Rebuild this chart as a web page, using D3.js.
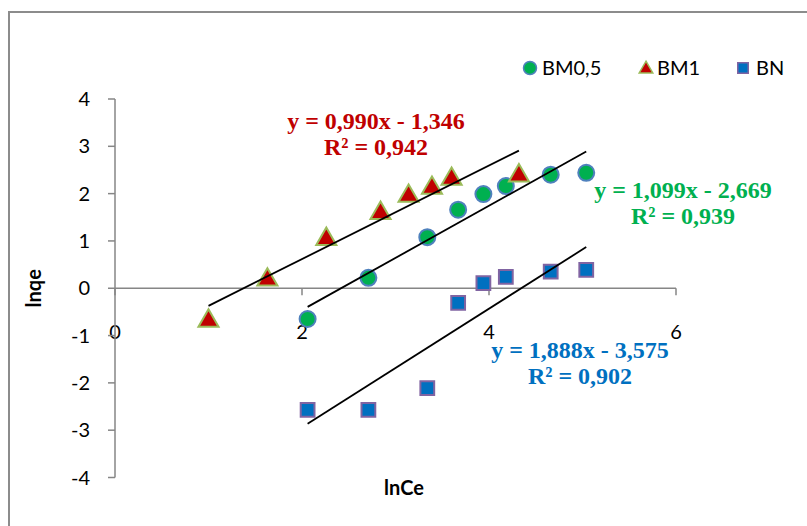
<!DOCTYPE html>
<html>
<head>
<meta charset="utf-8">
<script src="https://cdn.jsdelivr.net/npm/d3@7"></script>
<style>
  body { margin: 0; background: #fff; }
  svg { display: block; }
</style>
</head>
<body>
<svg width="807" height="526"></svg>
<script>
// lnCe / lnqe values
var bm05X = [2.06, 2.71, 3.34, 3.67, 3.94, 4.18, 4.66, 5.04];
var bm05Y = [-0.65, 0.22, 1.08, 1.66, 1.99, 2.16, 2.40, 2.44];
var bm1X = [1.00, 1.63, 2.26, 2.84, 3.14, 3.39, 3.60, 4.32];
var bm1Y = [-0.67, 0.20, 1.06, 1.61, 1.97, 2.14, 2.33, 2.40];
var bnX = [2.06, 2.71, 3.34, 3.67, 3.94, 4.18, 4.66, 5.04];
var bnY = [-2.57, -2.57, -2.11, -0.31, 0.11, 0.24, 0.35, 0.39];

var xTicks = [0, 2, 4, 6];
var yTicks = [-4, -3, -2, -1, 0, 1, 2, 3, 4];

var eqBm1 = ["y = 0,990x - 1,346", "R² = 0,942"];
var eqBm05 = ["y = 1,099x - 2,669", "R² = 0,939"];
var eqBn = ["y = 1,888x - 3,575", "R² = 0,902"];

var sans = 'Lato, Open Sans, sans-serif';
var svg = d3.select('svg');

// outer chart border (only top/left visible)
svg.append('rect')
    .attr('x', 9).attr('y', 12)
    .attr('width', 820).attr('height', 540)
    .attr('fill', 'none')
    .attr('stroke', '#8c8c8c')
    .attr('stroke-width', 2);

var x = d3.scaleLinear().domain([0, 6]).range([115, 676]);
var y = d3.scaleLinear().domain([-4, 4]).range([477.5, 99]);

var axisColor = '#868686';

// x axis at y = 0
svg.append('line')
    .attr('x1', x(0)).attr('x2', x(6))
    .attr('y1', y(0)).attr('y2', y(0))
    .attr('stroke', axisColor).attr('stroke-width', 1.5);
svg.selectAll('.xtick').data(xTicks).enter().append('line')
    .attr('x1', function(d) { return x(d); })
    .attr('x2', function(d) { return x(d); })
    .attr('y1', y(0)).attr('y2', y(0) + 7)
    .attr('stroke', axisColor).attr('stroke-width', 1.5);
svg.selectAll('.xlab').data(xTicks).enter().append('text')
    .attr('x', function(d) { return x(d); })
    .attr('y', y(0) + 51)
    .attr('text-anchor', 'middle')
    .attr('font-family', sans)
    .attr('font-size', 20)
    .text(function(d) { return d; });

// y axis
svg.append('line')
    .attr('x1', x(0)).attr('x2', x(0))
    .attr('y1', y(-4)).attr('y2', y(4))
    .attr('stroke', axisColor).attr('stroke-width', 1.5);
svg.selectAll('.ytick').data(yTicks).enter().append('line')
    .attr('x1', x(0) - 7).attr('x2', x(0))
    .attr('y1', function(d) { return y(d); })
    .attr('y2', function(d) { return y(d); })
    .attr('stroke', axisColor).attr('stroke-width', 1.5);
svg.selectAll('.ylab').data(yTicks).enter().append('text')
    .attr('x', 90)
    .attr('y', function(d) { return y(d) + 7; })
    .attr('text-anchor', 'end')
    .attr('font-family', sans)
    .attr('font-size', 20)
    .text(function(d) { return d; });

// axis titles
svg.append('text')
    .attr('transform', 'translate(41,' + y(0) + ') rotate(-90)')
    .attr('text-anchor', 'middle')
    .attr('font-family', sans)
    .attr('font-weight', 'bold')
    .attr('font-size', 20)
    .text('lnqe');
svg.append('text')
    .attr('x', 404).attr('y', 495)
    .attr('text-anchor', 'middle')
    .attr('font-family', sans)
    .attr('font-weight', 'bold')
    .attr('font-size', 20)
    .text('lnCe');

// least squares trend line from min x to max x
function trend(xs, ys) {
    var mx = d3.mean(xs), my = d3.mean(ys);
    var sxy = d3.sum(xs, function(v, i) { return (v - mx) * (ys[i] - my); });
    var sxx = d3.sum(xs, function(v) { return (v - mx) * (v - mx); });
    var b = sxy / sxx, a = my - b * mx;
    var x0 = d3.min(xs), x1 = d3.max(xs);
    svg.append('line')
        .attr('x1', x(x0)).attr('y1', y(a + b * x0))
        .attr('x2', x(x1)).attr('y2', y(a + b * x1))
        .attr('stroke', '#000').attr('stroke-width', 1.8);
}

function pairs(xs, ys) {
    return xs.map(function(v, i) { return { x: v, y: ys[i] }; });
}

var triSym = d3.symbol().type(d3.symbolTriangle).size(175);
var sqSym = d3.symbol().type(d3.symbolSquare).size(190);

// BN squares
svg.selectAll('.bn').data(pairs(bnX, bnY)).enter().append('path')
    .attr('d', sqSym)
    .attr('transform', function(d) { return 'translate(' + x(d.x) + ',' + y(d.y) + ')'; })
    .attr('fill', '#0070c0').attr('stroke', '#8064a2').attr('stroke-width', 2);

// BM0,5 circles
svg.selectAll('.bm05').data(pairs(bm05X, bm05Y)).enter().append('circle')
    .attr('cx', function(d) { return x(d.x); })
    .attr('cy', function(d) { return y(d.y); })
    .attr('r', 8)
    .attr('fill', '#00b050').attr('stroke', '#4f81bd').attr('stroke-width', 2);

// BM1 triangles
svg.selectAll('.bm1').data(pairs(bm1X, bm1Y)).enter().append('path')
    .attr('d', triSym)
    .attr('transform', function(d) { return 'translate(' + x(d.x) + ',' + (y(d.y) + 1) + ')'; })
    .attr('fill', '#c00000').attr('stroke', '#9bbb59').attr('stroke-width', 2);

trend(bm1X, bm1Y);
trend(bm05X, bm05Y);
trend(bnX, bnY);

// equation labels
function eq(lines, cx, y0, color) {
    svg.selectAll(null).data(lines).enter().append('text')
        .attr('x', cx)
        .attr('y', function(d, i) { return y0 + i * 26; })
        .attr('text-anchor', 'middle')
        .attr('font-family', 'Liberation Serif, Times New Roman, serif')
        .attr('font-weight', 'bold')
        .attr('font-size', 24)
        .attr('fill', color)
        .text(function(d) { return d; });
}
eq(eqBm1, 376, 129, '#c00000');
eq(eqBm05, 683, 198, '#00b050');
eq(eqBn, 580, 358, '#0070c0');

// legend
var lg = svg.append('g').attr('font-family', sans).attr('font-size', 20);
lg.append('circle').attr('cx', 530).attr('cy', 68).attr('r', 6.5)
    .attr('fill', '#00b050').attr('stroke', '#4f81bd').attr('stroke-width', 1.5);
lg.append('text').attr('x', 542).attr('y', 75).text('BM0,5');
lg.append('path').attr('d', d3.symbol().type(d3.symbolTriangle).size(80))
    .attr('transform', 'translate(646,69)')
    .attr('fill', '#c00000').attr('stroke', '#9bbb59').attr('stroke-width', 1.5);
lg.append('text').attr('x', 657).attr('y', 75).text('BM1');
lg.append('path').attr('d', d3.symbol().type(d3.symbolSquare).size(110))
    .attr('transform', 'translate(743,68)')
    .attr('fill', '#0070c0').attr('stroke', '#8064a2').attr('stroke-width', 1.5);
lg.append('text').attr('x', 756).attr('y', 75).text('BN');
</script>
</body>
</html>
